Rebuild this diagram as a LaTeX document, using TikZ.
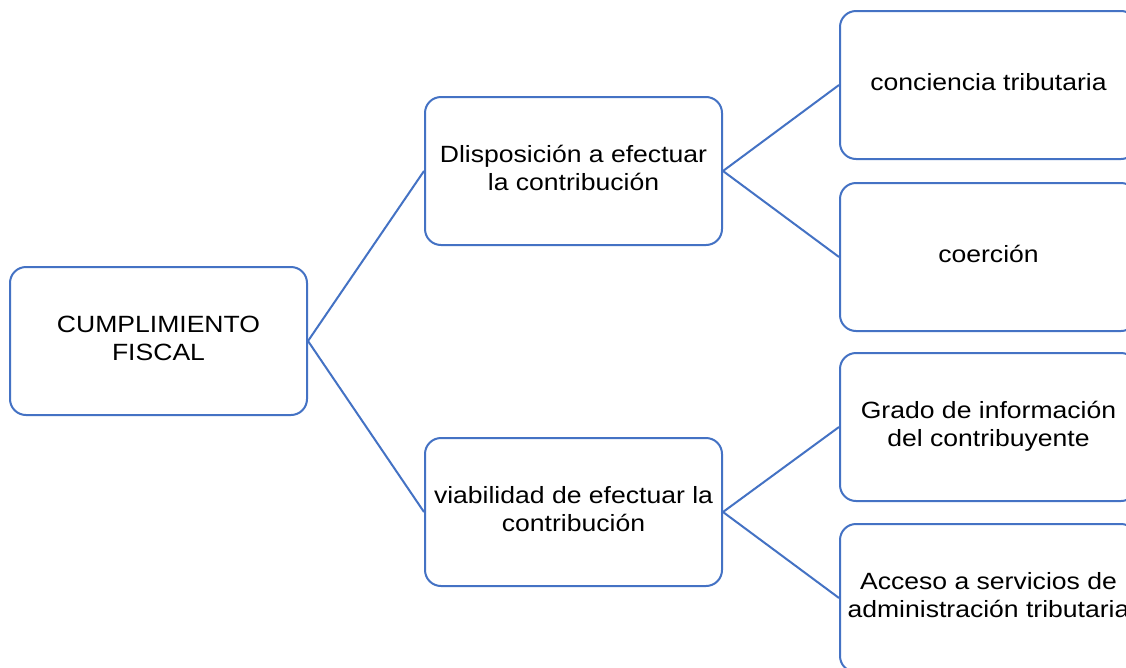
\documentclass[tikz,border=0pt]{standalone}
\usepackage{graphicx}
\usepackage{fontspec}
\setmainfont{Liberation Sans}
\definecolor{boxblue}{RGB}{68,114,196}
\newcommand{\widetext}[1]{\scalebox{1.13}[1]{\begin{tabular}{@{}c@{}}#1\end{tabular}}}
\tikzset{
  box/.style={draw=boxblue, line width=2pt, rounded corners=16pt, fill=white,
    minimum width=297pt, minimum height=148pt, inner sep=0pt, align=center,
    font=\fontsize{23.5}{28}\selectfont},
  link/.style={draw=boxblue, line width=2pt}
}
\begin{document}
\begin{tikzpicture}[x=1pt,y=-1pt]
\useasboundingbox (0,0) rectangle (1126,667);
\fill[white] (0,0) rectangle (1126,667);
\node[box] (root) at (158.5,341) {\widetext{CUMPLIMIENTO\\FISCAL}};
\node[box] (disp) at (573.5,171) {\widetext{Dlisposición a efectuar\\la contribución}};
\node[box] (viab) at (573.5,512) {\widetext{viabilidad de efectuar la\\contribución}};
\node[box] (conc) at (988.5,85) {\widetext{conciencia tributaria}};
\node[box] (coer) at (988.5,257) {\widetext{coerción}};
\node[box] (grad) at (988.5,427) {\widetext{Grado de información\\del contribuyente}};
\node[box] (acce) at (988.5,598) {\widetext{Acceso a servicios de\\administración tributaria}};
\draw[link] (root.east) -- (disp.west);
\draw[link] (root.east) -- (viab.west);
\draw[link] (disp.east) -- (conc.west);
\draw[link] (disp.east) -- (coer.west);
\draw[link] (viab.east) -- (grad.west);
\draw[link] (viab.east) -- (acce.west);
\end{tikzpicture}
\end{document}
